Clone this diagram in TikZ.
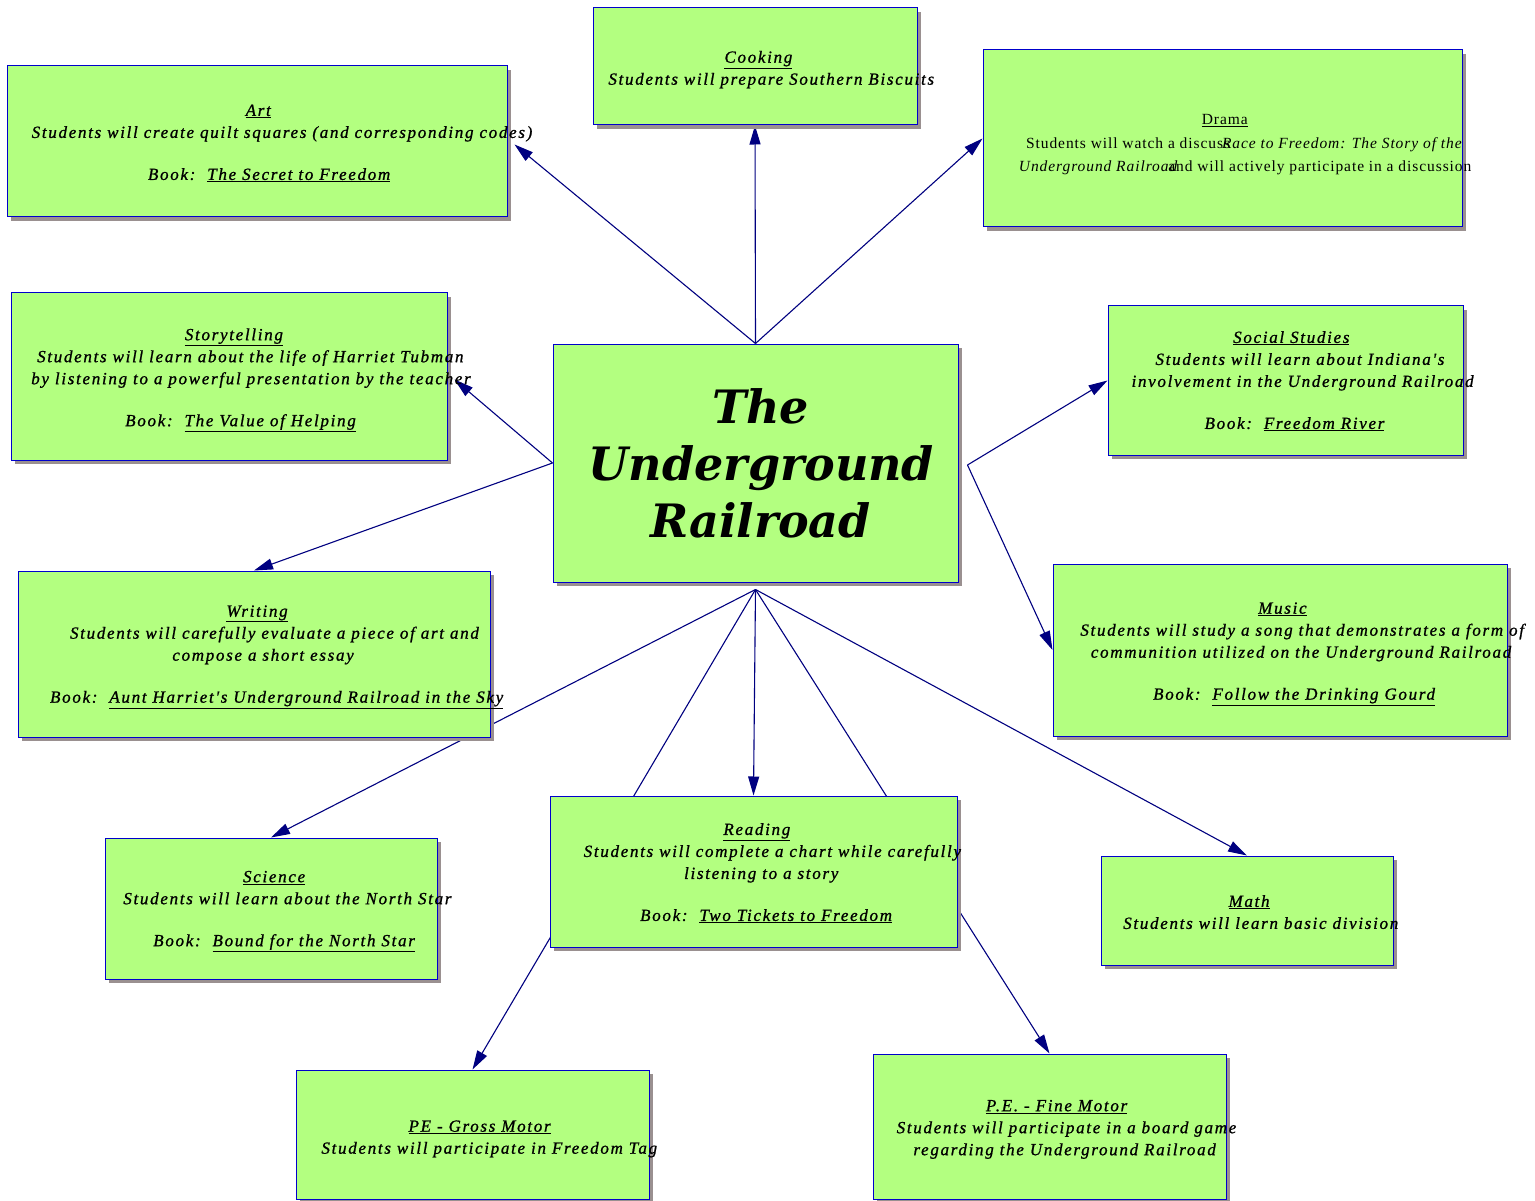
\documentclass[tikz,border=0pt]{standalone}
\usepackage{fontspec}
\setmainfont{Liberation Serif}
\newfontfamily\bodyfont[LetterSpace=10,FakeBold=1]{Liberation Serif}
\newfontfamily\dramafont[LetterSpace=6]{Liberation Serif}
\newfontfamily\titlefont{DejaVu Serif}
\usetikzlibrary{shadows,backgrounds,arrows.meta}
\definecolor{boxgreen}{HTML}{B3FF80}
\definecolor{boxblue}{HTML}{0000CC}
\definecolor{linknavy}{HTML}{000080}
\definecolor{shadowgray}{HTML}{9A9090}
\newsavebox\linebox
\newlength\linelen
\newcommand\lineR[1]{\sbox\linebox{#1}\setlength\linelen{0.9\wd\linebox}\makebox[\linelen][l]{\usebox\linebox}}
\tikzset{
  box/.style={draw=boxblue, fill=boxgreen, line width=1pt, inner sep=0pt,
    align=center, font=\bodyfont\itshape\fontsize{17}{22}\selectfont,
    drop shadow={shadow xshift=4pt, shadow yshift=-4pt, fill=shadowgray, opacity=1}},
  link/.style={draw=linknavy, line width=1.1pt},
  arr/.style={link, -{Triangle[length=19pt,width=11pt]}}
}
\begin{document}
\begin{tikzpicture}[x=1pt,y=-1pt]
\useasboundingbox (0,0) rectangle (1535,1201);

\node[box, minimum width=500pt, minimum height=151pt] (art) at (257,141.5)
  {\rule{0pt}{15pt}\lineR{\underline{Art}}\\\lineR{Students will create quilt squares (and corresponding codes)}\\[20pt]\lineR{Book:\ \ \underline{The Secret to Freedom}}};
\node[box, minimum width=324pt, minimum height=117pt] (cook) at (755,66.5)
  {\rule{0pt}{18pt}\lineR{\underline{Cooking}}\\\lineR{Students will prepare Southern Biscuits}};
\node[box, minimum width=479pt, minimum height=177pt, font=\dramafont\fontsize{15.5}{23.5}\selectfont] (drama) at (1222.5,138.5)
  {\rule{0pt}{23pt}\lineR{\underline{Drama}}\\\lineR{Students will watch a discuss\kern-8pt\textit{Race to Freedom: The Story of the}}\\\lineR{\textit{Underground Railroad}\kern-10pt and will actively participate in a discussion}};
\node[box, minimum width=436pt, minimum height=167pt] (story) at (229,376.5)
  {\rule{0pt}{19pt}\lineR{\underline{Storytelling}}\\\lineR{Students will learn about the life of Harriet Tubman}\\\lineR{by listening to a powerful presentation by the teacher}\\[20pt]\lineR{Book:\ \ \underline{The Value of Helping}}};
\node[box, minimum width=405pt, minimum height=238pt, font=\titlefont\bfseries\itshape\fontsize{46}{57}\selectfont] (c) at (755.5,463)
  {\hspace*{10pt}The\\\hspace*{12pt}Underground\\\hspace*{10pt}Railroad};
\node[box, minimum width=355pt, minimum height=149pt] (soc) at (1285.5,380.5)
  {\rule{0pt}{13pt}\lineR{\underline{Social Studies}}\\\lineR{Students will learn about Indiana's}\\\lineR{involvement in the Underground Railroad}\\[20pt]\lineR{Book:\ \ \underline{Freedom River}}};
\node[box, minimum width=472pt, minimum height=166pt] (writ) at (254,654)
  {\rule{0pt}{17pt}\lineR{\underline{Writing}}\\\lineR{Students will carefully evaluate a piece of art and}\\\lineR{compose a short essay}\\[20pt]\lineR{Book:\ \ \underline{Aunt Harriet's Underground Railroad in the Sky}}};
\node[box, minimum width=454pt, minimum height=172pt] (music) at (1280,650)
  {\rule{0pt}{19pt}\lineR{\underline{Music}}\\\lineR{Students will study a song that demonstrates a form of}\\\lineR{communition utilized on the Underground Railroad}\\[20pt]\lineR{Book:\ \ \underline{Follow the Drinking Gourd}}};
\node[box, minimum width=332pt, minimum height=141pt] (sci) at (271,908.5)
  {\rule{0pt}{17pt}\lineR{\underline{Science}}\\\lineR{Students will learn about the North Star}\\[20pt]\lineR{Book:\ \ \underline{Bound for the North Star}}};
\node[box, minimum width=407pt, minimum height=151pt] (read) at (753.5,871.5)
  {\rule{0pt}{15pt}\lineR{\underline{Reading}}\\\lineR{Students will complete a chart while carefully}\\\lineR{listening to a story}\\[20pt]\lineR{Book:\ \ \underline{Two Tickets to Freedom}}};
\node[box, minimum width=292pt, minimum height=109pt] (math) at (1247,910.5)
  {\rule{0pt}{15pt}\lineR{\underline{Math}}\\\lineR{Students will learn basic division}};
\node[box, minimum width=353pt, minimum height=129pt] (peg) at (472.5,1134.5)
  {\rule{0pt}{20pt}\lineR{\underline{PE - Gross Motor}}\\\lineR{Students will participate in Freedom Tag}};
\node[box, minimum width=353pt, minimum height=145pt] (pef) at (1049.5,1126.5)
  {\rule{0pt}{17pt}\lineR{\underline{P.E. - Fine Motor}}\\\lineR{Students will participate in a board game}\\\lineR{regarding the Underground Railroad}};

\coordinate (cE) at ([xshift=9pt,yshift=-2pt]c.east);
\coordinate (cS) at ([yshift=-7pt]c.south);

\begin{scope}[on background layer]
\fill[white] (0,0) rectangle (1535,1201);
\draw[arr] (c.north) -- ([xshift=7pt,yshift=-3pt]art.east);
\draw[arr] (c.north) -- (cook.south);
\draw[arr] (c.north) -- (drama.west);
\draw[arr] (c.west) -- ([xshift=7pt,yshift=-3pt]story.east);
\draw[arr] (c.west) -- (writ.north);
\draw[arr] (cE) -- (soc.west);
\draw[arr] (cE) -- (music.west);
\draw[arr] (cS) -- (read.north);
\draw[arr] (cS) -- (peg.north);
\draw[arr] (cS) -- (pef.north);
\draw[arr] (cS) -- (sci.north);
\draw[arr] (cS) -- (math.north);
\end{scope}
\end{tikzpicture}
\end{document}
